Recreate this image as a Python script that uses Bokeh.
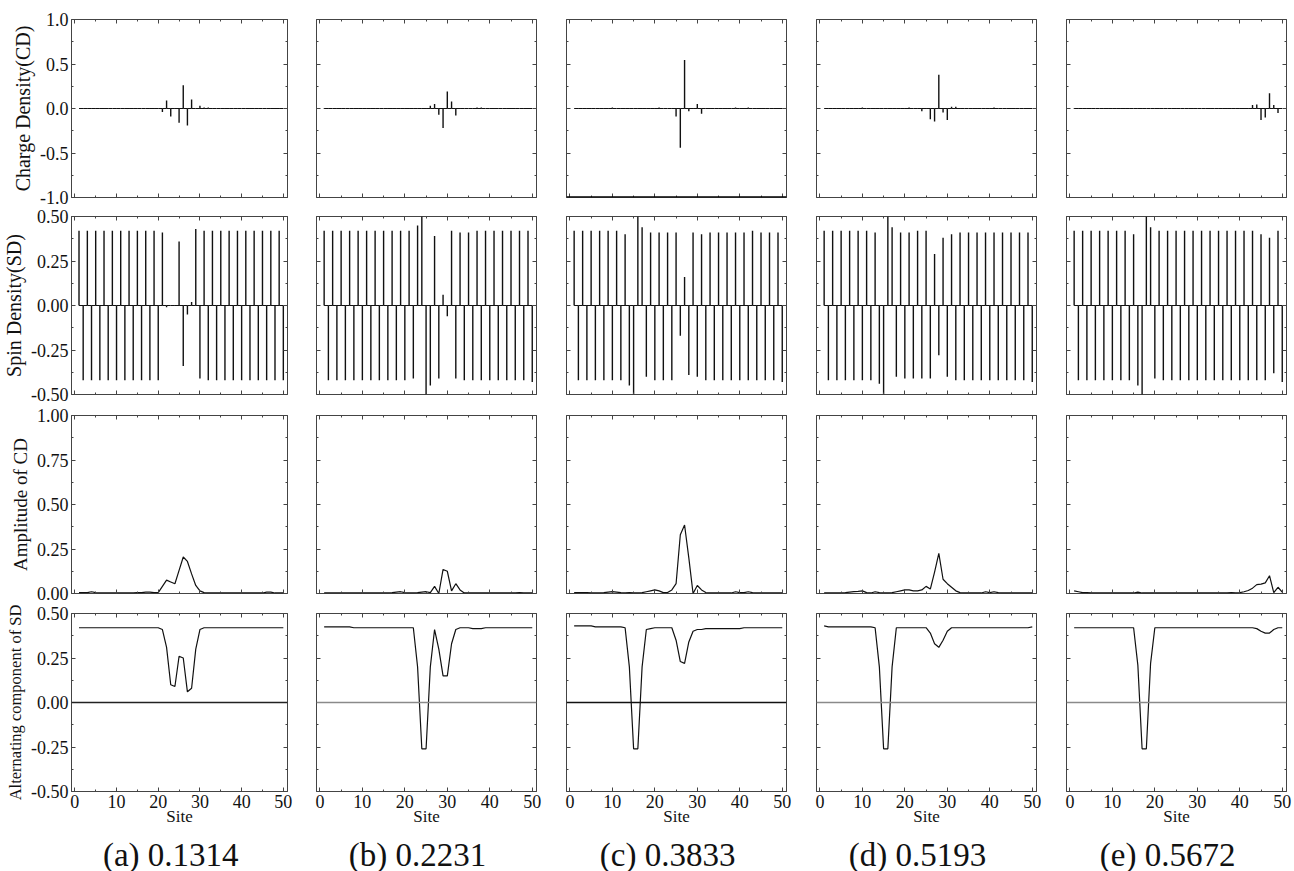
from bokeh.plotting import figure
from bokeh.models import (Range1d, LinearAxis, SingleIntervalTicker,
                          NumeralTickFormatter, CustomJSTickFormatter, Span,
                          ColumnDataSource)
from bokeh.core.properties import value
from bokeh.layouts import gridplot
from bokeh.embed import file_html
from bokeh.resources import INLINE

# ---------------- data ----------------
sites = list(range(1, 51))

captions = ["(a) 0.1314", "(b) 0.2231", "(c) 0.3833", "(d) 0.5193", "(e) 0.5672"]
row_labels = ["Charge Density(CD)", "Spin Density(SD)", "Amplitude of CD",
              "Alternating component of SD"]
x_label = "Site"

# Row 1: charge density (impulses)
cd_a = [0, 0, 0.005, 0.005, 0.005, 0, 0, 0, 0, 0.005,
        0, 0, 0, 0.005, 0.005, 0, 0, 0.005, 0.005, 0,
        -0.04, 0.09, -0.09, 0, -0.16, 0.26, -0.19, 0.10, 0, 0.03,
        0.01, 0.01, 0.005, 0, 0, 0, 0, 0, 0.005, 0,
        0, 0, 0, 0.005, 0, 0, 0.005, 0.005, 0.005, 0]
cd_b = [0.005, 0.005, 0, 0, 0, 0, 0, 0, 0.005, 0.005,
        0.005, 0.005, 0, 0, 0, 0.005, 0.005, 0.005, 0.005, 0.005,
        0.005, 0.005, 0.005, 0, 0.005, 0.03, 0.05, -0.07, -0.22, 0.19,
        0.08, -0.08, 0, 0, 0, 0, 0.01, 0.01, 0, 0,
        0, 0, 0, 0.005, 0.005, 0.005, 0, 0.005, 0.005, 0]
cd_c = [0, 0.005, 0.005, 0, 0, 0, 0.005, 0, 0, 0.01,
        0, 0, 0, 0.005, 0, 0, 0.005, 0.005, 0.005, 0.005,
        0.01, 0, 0, 0, -0.09, -0.44, 0.545, -0.03, 0, 0.05,
        -0.06, 0, 0.005, 0, 0.005, 0.005, 0, 0, 0.01, 0,
        0, 0.01, 0, 0.005, 0, 0.005, 0, 0.005, 0, 0.005]
cd_d = [0, 0.005, 0.005, 0, 0, 0, 0.005, 0, 0, 0.01,
        0, 0, 0.005, 0.005, 0, 0, 0, 0.005, 0.005, 0.005,
        0.01, 0, 0.005, -0.03, 0, -0.12, -0.145, 0.38, -0.045, -0.13,
        0.02, 0.02, 0, 0, 0, 0.005, 0, 0, 0.005, 0.005,
        0.01, 0, 0, 0, 0, 0.005, 0, 0, 0, 0]
cd_e = [0.005, 0.005, 0.005, 0, 0, 0, 0, 0, 0.005, 0.005,
        0.005, 0.005, 0.005, 0.005, 0, 0, 0, 0, 0, 0,
        0, 0, 0, 0, 0, 0, 0, 0, 0, 0,
        0, 0, 0.005, 0, 0.005, 0.005, 0, 0.005, 0.005, 0.005,
        0.005, 0.005, 0.04, 0.045, -0.13, -0.10, 0.17, 0.04, -0.05, 0]

# Row 2: spin density (impulses)
sd_a = [0.42, -0.42, 0.42, -0.42, 0.42, -0.42, 0.42, -0.42, 0.42, -0.42,
        0.42, -0.42, 0.42, -0.42, 0.42, -0.42, 0.42, -0.42, 0.42, -0.42,
        0.41, -0.01, 0.0, 0.0, 0.36, -0.34, -0.05, 0.02, 0.43, -0.41,
        0.42, -0.42, 0.42, -0.42, 0.42, -0.42, 0.42, -0.42, 0.42, -0.42,
        0.42, -0.42, 0.42, -0.42, 0.42, -0.42, 0.42, -0.42, 0.42, -0.42]
sd_b = [0.42, -0.42, 0.42, -0.42, 0.42, -0.42, 0.42, -0.42, 0.42, -0.42,
        0.42, -0.42, 0.42, -0.42, 0.42, -0.42, 0.42, -0.42, 0.42, -0.42,
        0.42, -0.41, 0.45, 0.5, -0.5, -0.45, 0.39, -0.41, 0.06, -0.06,
        0.42, -0.41, 0.41, -0.42, 0.41, -0.42, 0.42, -0.42, 0.42, -0.42,
        0.42, -0.42, 0.42, -0.42, 0.42, -0.42, 0.42, -0.42, 0.42, -0.43]
sd_c = [0.42, -0.42, 0.42, -0.42, 0.42, -0.42, 0.42, -0.42, 0.42, -0.42,
        0.42, -0.42, 0.40, -0.45, -0.5, 0.5, 0.44, -0.40, 0.41, -0.42,
        0.41, -0.42, 0.41, -0.42, 0.41, -0.17, 0.16, -0.39, 0.41, -0.40,
        0.40, -0.42, 0.41, -0.42, 0.41, -0.42, 0.41, -0.42, 0.41, -0.42,
        0.41, -0.42, 0.42, -0.42, 0.41, -0.42, 0.41, -0.42, 0.41, -0.43]
sd_d = [0.42, -0.42, 0.42, -0.42, 0.42, -0.42, 0.42, -0.42, 0.42, -0.42,
        0.42, -0.42, 0.41, -0.44, -0.5, 0.5, 0.44, -0.40, 0.41, -0.41,
        0.41, -0.41, 0.42, -0.41, 0.42, -0.41, 0.29, -0.28, 0.38, -0.40,
        0.40, -0.42, 0.41, -0.42, 0.41, -0.42, 0.41, -0.42, 0.41, -0.42,
        0.41, -0.42, 0.41, -0.42, 0.41, -0.42, 0.41, -0.42, 0.41, -0.43]
sd_e = [0.42, -0.42, 0.42, -0.42, 0.42, -0.42, 0.42, -0.42, 0.42, -0.42,
        0.42, -0.42, 0.42, -0.42, 0.40, -0.45, -0.5, 0.5, 0.44, -0.41,
        0.42, -0.42, 0.42, -0.42, 0.42, -0.42, 0.42, -0.42, 0.42, -0.42,
        0.42, -0.42, 0.42, -0.42, 0.42, -0.42, 0.42, -0.42, 0.42, -0.42,
        0.42, -0.42, 0.42, -0.42, 0.40, -0.42, 0.38, -0.38, 0.42, -0.43]

# Row 3: amplitude of CD (lines)
amp_a = [0.005, 0.005, 0.005, 0.01, 0.005, 0.003, 0.003, 0.003, 0.003, 0.003,
         0.003, 0.003, 0.003, 0.003, 0.005, 0.005, 0.008, 0.008, 0.005, 0.005,
         0.04, 0.075, 0.065, 0.055, 0.13, 0.205, 0.18, 0.11, 0.045, 0.015,
         0.005, 0.003, 0.003, 0.003, 0.003, 0.003, 0.003, 0.003, 0.003, 0.003,
         0.003, 0.003, 0.003, 0.003, 0.003, 0.008, 0.008, 0.003, 0.003, 0.003]
amp_b = [0.003, 0.003, 0.003, 0.003, 0.003, 0.003, 0.003, 0.003, 0.003, 0.003,
         0.003, 0.003, 0.003, 0.003, 0.003, 0.003, 0.005, 0.008, 0.01, 0.005,
         0.003, 0.003, 0.005, 0.008, 0.01, 0.005, 0.04, 0.0, 0.135, 0.125,
         0.015, 0.055, 0.02, 0.003, 0.003, 0.003, 0.003, 0.003, 0.003, 0.003,
         0.003, 0.003, 0.003, 0.003, 0.003, 0.003, 0.005, 0.003, 0.003, 0.003]
amp_c = [0.005, 0.005, 0.005, 0.005, 0.003, 0.003, 0.003, 0.005, 0.008, 0.01,
         0.008, 0.005, 0.003, 0.005, 0.003, 0.003, 0.005, 0.01, 0.015, 0.02,
         0.015, 0.005, 0.005, 0.02, 0.055, 0.33, 0.385, 0.2, 0.0, 0.045,
         0.02, 0.005, 0.003, 0.003, 0.003, 0.003, 0.003, 0.003, 0.01, 0.005,
         0.005, 0.01, 0.005, 0.003, 0.003, 0.003, 0.003, 0.003, 0.003, 0.003]
amp_d = [0.003, 0.003, 0.003, 0.003, 0.003, 0.005, 0.008, 0.01, 0.012, 0.015,
         0.005, 0.003, 0.01, 0.005, 0.003, 0.003, 0.005, 0.01, 0.015, 0.02,
         0.02, 0.015, 0.015, 0.02, 0.04, 0.025, 0.12, 0.225, 0.08, 0.055,
         0.035, 0.015, 0.005, 0.003, 0.003, 0.003, 0.003, 0.003, 0.01, 0.005,
         0.01, 0.005, 0.003, 0.003, 0.003, 0.003, 0.003, 0.003, 0.003, 0.003]
amp_e = [0.015, 0.01, 0.005, 0.005, 0.003, 0.003, 0.003, 0.003, 0.003, 0.003,
         0.003, 0.003, 0.003, 0.003, 0.003, 0.008, 0.003, 0.003, 0.003, 0.003,
         0.003, 0.003, 0.003, 0.003, 0.003, 0.003, 0.003, 0.003, 0.003, 0.003,
         0.003, 0.003, 0.003, 0.003, 0.003, 0.003, 0.003, 0.005, 0.003, 0.005,
         0.01, 0.017, 0.03, 0.05, 0.053, 0.06, 0.1, 0.005, 0.035, 0.008]

# Row 4: alternating component of SD (lines)
alt_a = [0.42, 0.42, 0.42, 0.42, 0.42, 0.42, 0.42, 0.42, 0.42, 0.42,
         0.42, 0.42, 0.42, 0.42, 0.42, 0.42, 0.42, 0.42, 0.42, 0.42,
         0.41, 0.31, 0.10, 0.09, 0.26, 0.25, 0.06, 0.08, 0.30, 0.41,
         0.42, 0.42, 0.42, 0.42, 0.42, 0.42, 0.42, 0.42, 0.42, 0.42,
         0.42, 0.42, 0.42, 0.42, 0.42, 0.42, 0.42, 0.42, 0.42, 0.42]
alt_b = [0.425, 0.425, 0.425, 0.425, 0.425, 0.425, 0.425, 0.42, 0.42, 0.42,
         0.42, 0.42, 0.42, 0.42, 0.42, 0.42, 0.42, 0.42, 0.42, 0.42,
         0.42, 0.42, 0.20, -0.26, -0.26, 0.20, 0.41, 0.30, 0.15, 0.15,
         0.33, 0.41, 0.42, 0.42, 0.42, 0.415, 0.415, 0.415, 0.42, 0.42,
         0.42, 0.42, 0.42, 0.42, 0.42, 0.42, 0.42, 0.42, 0.42, 0.42]
alt_c = [0.43, 0.43, 0.43, 0.43, 0.43, 0.425, 0.425, 0.425, 0.425, 0.425,
         0.425, 0.425, 0.42, 0.20, -0.26, -0.26, 0.20, 0.41, 0.415, 0.42,
         0.42, 0.42, 0.42, 0.42, 0.35, 0.23, 0.22, 0.34, 0.40, 0.41,
         0.41, 0.415, 0.415, 0.415, 0.415, 0.415, 0.415, 0.415, 0.415, 0.415,
         0.42, 0.42, 0.42, 0.42, 0.42, 0.42, 0.42, 0.42, 0.42, 0.42]
alt_d = [0.43, 0.425, 0.425, 0.425, 0.425, 0.425, 0.425, 0.425, 0.425, 0.425,
         0.425, 0.425, 0.42, 0.20, -0.26, -0.26, 0.20, 0.42, 0.42, 0.42,
         0.42, 0.42, 0.42, 0.42, 0.42, 0.39, 0.33, 0.31, 0.35, 0.40,
         0.42, 0.42, 0.42, 0.42, 0.42, 0.42, 0.42, 0.42, 0.42, 0.42,
         0.42, 0.42, 0.42, 0.42, 0.42, 0.42, 0.42, 0.42, 0.42, 0.425]
alt_e = [0.42, 0.42, 0.42, 0.42, 0.42, 0.42, 0.42, 0.42, 0.42, 0.42,
         0.42, 0.42, 0.42, 0.42, 0.42, 0.21, -0.26, -0.26, 0.22, 0.42,
         0.42, 0.42, 0.42, 0.42, 0.42, 0.42, 0.42, 0.42, 0.42, 0.42,
         0.42, 0.42, 0.42, 0.42, 0.42, 0.42, 0.42, 0.42, 0.42, 0.42,
         0.42, 0.42, 0.42, 0.415, 0.40, 0.39, 0.39, 0.41, 0.42, 0.42]

rows_data = [
    [cd_a, cd_b, cd_c, cd_d, cd_e],
    [sd_a, sd_b, sd_c, sd_d, sd_e],
    [amp_a, amp_b, amp_c, amp_d, amp_e],
    [alt_a, alt_b, alt_c, alt_d, alt_e],
]

# ---------------- styling / layout ----------------
FONT = "Liberation Serif"
FRAME = "#444444"
INK = "#111111"
X_RANGE = (-0.8, 51.0)
Y_RANGES = [(-1.0, 1.0), (-0.5, 0.5), (0.0, 1.0), (-0.5, 0.5)]
Y_STEP = [0.5, 0.25, 0.25, 0.25]
Y_FMT = ["0.0", "0.00", "0.00", "0.00"]
YLABEL_SIZE = ["20px", "20px", "19px", "16.5px"]
TICK_SIZE = "18px"
COL_W = [301, 250, 250, 250, 243]
COL_LEFT = [67, 15, 15, 15, 15]
COL_RIGHT = [14, 15, 15, 15, 8]
FRAME_H = 178
ROW_TOP = [19, 9, 11, 10]
ROW_BOT = [10, 10, 10, 46]
CAPTION_H = 34
CAPTION_X = 23.0      # caption centre (site units, as in the panel above)
CAPTION_Y = 0.5       # caption vertical centre inside its strip (0..1)
ZERO_LINE_COLORS = ["#222222", "#8a8a8a", "#111111", "#8a8a8a", "#8a8a8a"]

BLANK = CustomJSTickFormatter(code="return ''")


def style_axis(ax, ticker, fmt, show_labels, horizontal):
    ax.ticker = ticker
    ax.axis_line_color = None
    ax.major_tick_in = 4
    ax.major_tick_out = 0
    ax.minor_tick_in = 2
    ax.minor_tick_out = 0
    ax.major_tick_line_color = FRAME
    ax.minor_tick_line_color = FRAME
    ax.major_label_text_font = FONT
    ax.major_label_text_color = INK
    ax.major_label_text_font_size = TICK_SIZE
    if show_labels:
        ax.formatter = fmt
        ax.major_label_standoff = 3
    else:
        ax.formatter = BLANK
        ax.major_label_standoff = 0
        if horizontal:
            ax.major_label_orientation = "vertical"


def make_panel(r, c):
    p = figure(width=COL_W[c], height=ROW_TOP[r] + FRAME_H + ROW_BOT[r],
               x_range=Range1d(*X_RANGE), y_range=Range1d(*Y_RANGES[r]),
               output_backend="svg", toolbar_location=None,
               min_border_left=COL_LEFT[c], min_border_right=COL_RIGHT[c],
               min_border_top=ROW_TOP[r], min_border_bottom=ROW_BOT[r])
    p.grid.visible = False
    p.outline_line_color = FRAME
    p.outline_line_width = 1
    p.background_fill_color = "white"
    p.border_fill_color = "white"

    xt = SingleIntervalTicker(interval=10, num_minor_ticks=2)
    yt = SingleIntervalTicker(interval=Y_STEP[r], num_minor_ticks=2)
    xf = NumeralTickFormatter(format="0")
    yf = NumeralTickFormatter(format=Y_FMT[r])

    style_axis(p.below[0], xt, xf, r == 3, True)
    style_axis(p.left[0], yt, yf, c == 0, False)
    top = LinearAxis()
    right = LinearAxis()
    style_axis(top, xt, xf, False, True)
    style_axis(right, yt, yf, False, False)
    p.add_layout(top, "above")
    p.add_layout(right, "right")

    if c == 0:
        ax = p.left[0]
        ax.axis_label = row_labels[r]
        ax.axis_label_text_font = FONT
        ax.axis_label_text_font_size = YLABEL_SIZE[r]
        ax.axis_label_text_font_style = "normal"
        ax.axis_label_text_color = INK
        ax.axis_label_standoff = 3
    if r == 3:
        ax = p.below[0]
        ax.axis_label = x_label
        ax.axis_label_text_font = FONT
        ax.axis_label_text_font_size = "17px"
        ax.axis_label_text_font_style = "normal"
        ax.axis_label_text_color = INK
        ax.axis_label_standoff = -4

    vals = rows_data[r][c]
    src = ColumnDataSource(dict(site=sites, val=vals, zero=[0.0] * len(sites)))
    if r in (0, 1):
        if r == 0 and c == 2:
            p.add_layout(Span(location=Y_RANGES[0][0], dimension="width",
                              line_color="#000000", line_width=2.5))
        p.line("site", "zero", source=src, line_color=INK, line_width=1)
        p.segment(x0="site", y0="zero", x1="site", y1="val", source=src,
                  line_color=INK, line_width=1.4)
    else:
        if r == 3:
            p.add_layout(Span(location=0, dimension="width",
                              line_color=ZERO_LINE_COLORS[c], line_width=1.3))
        p.line("site", "val", source=src, line_color=INK, line_width=1.2)
    return p


def make_caption(c):
    p = figure(width=COL_W[c], height=CAPTION_H,
               x_range=Range1d(*X_RANGE), y_range=Range1d(0, 1),
               output_backend="svg", toolbar_location=None,
               x_axis_location=None, y_axis_location=None,
               min_border_left=COL_LEFT[c], min_border_right=COL_RIGHT[c],
               min_border_top=0, min_border_bottom=0)
    p.title.visible = False
    p.grid.visible = False
    p.outline_line_color = None
    p.text(x=[CAPTION_X], y=[CAPTION_Y], text=[captions[c]],
           text_align="center", text_baseline="middle",
           text_font=value(FONT), text_font_size="33px", text_color=INK)
    return p


grid = [[make_panel(r, c) for c in range(5)] for r in range(4)]
grid.append([make_caption(c) for c in range(5)])
layout = gridplot(grid, toolbar_location=None)

open("out.html", "w").write(file_html(layout, INLINE))
